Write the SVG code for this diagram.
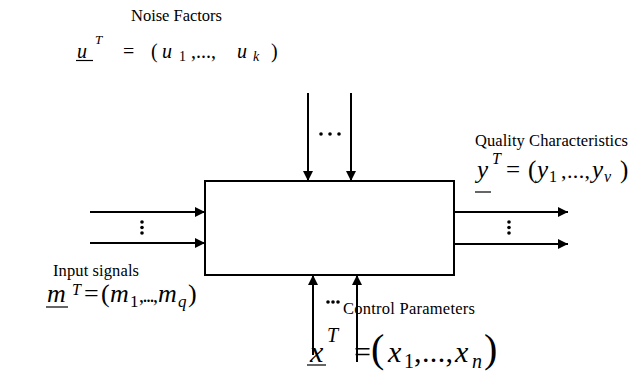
<svg xmlns="http://www.w3.org/2000/svg" width="631" height="371" viewBox="0 0 631 371" font-family="Liberation Serif, Times New Roman, serif">
<defs>
<marker id="ah" viewBox="0 0 10 10" refX="10" refY="5" markerWidth="5" markerHeight="5" orient="auto" markerUnits="strokeWidth">
<path d="M0,0 L10,5 L0,10 z" fill="#000"/>
</marker>
<style>
text{font-family:"Liberation Serif","Times New Roman",serif;fill:#000}
.lbl{font-size:16.5px}
.mi{font-style:italic}
.ln{stroke:#000;stroke-width:2;fill:none}
.ar{stroke:#000;stroke-width:2;fill:none;marker-end:url(#ah)}
.ul{stroke:#000;stroke-width:1.2}
</style>
</defs>
<rect width="631" height="371" fill="#fff"/>
<g id="system">
<rect x="205" y="181" width="249" height="94" class="ln"/>
</g>
<g id="connectors">
<line x1="308" y1="93" x2="308" y2="181" class="ar"/>
<line x1="351" y1="93" x2="351" y2="181" class="ar"/>
<line x1="90" y1="212" x2="205" y2="212" class="ar"/>
<line x1="90" y1="243" x2="205" y2="243" class="ar"/>
<line x1="454" y1="212" x2="568" y2="212" class="ar"/>
<line x1="454" y1="244" x2="568" y2="244" class="ar"/>
<line x1="313" y1="355" x2="313" y2="275" class="ar"/>
<line x1="357" y1="362" x2="357" y2="275" class="ar"/>
<g fill="#000">
<circle cx="321" cy="134" r="1.8"/><circle cx="330" cy="134" r="1.8"/><circle cx="339" cy="134" r="1.8"/>
<circle cx="142" cy="222" r="1.8"/><circle cx="142" cy="227.5" r="1.8"/><circle cx="142" cy="233" r="1.8"/>
<circle cx="509" cy="222" r="1.8"/><circle cx="509" cy="227.5" r="1.8"/><circle cx="509" cy="233" r="1.8"/>
<circle cx="328" cy="302" r="1.8"/><circle cx="333" cy="302" r="1.8"/><circle cx="338" cy="302" r="1.8"/>
</g>
</g>
<g id="noise">
<text x="131" y="21" class="lbl" textLength="91">Noise Factors</text>
<text x="77" y="58" class="mi" font-size="20">u</text>
<line x1="76" y1="60.5" x2="93" y2="60.5" class="ul"/>
<text x="95" y="44" class="mi" font-size="13">T</text>
<text x="123" y="58" font-size="20">=</text>
<text x="151" y="58" font-size="20">(</text>
<text x="162" y="58" class="mi" font-size="20">u</text>
<text x="179" y="61" font-size="14">1</text>
<text x="191" y="58" font-size="20">,...,</text>
<text x="237" y="58" class="mi" font-size="20">u</text>
<text x="253" y="61" class="mi" font-size="14">k</text>
<text x="271" y="58" font-size="20">)</text>
</g>
<g id="quality">
<text x="475" y="146" class="lbl" textLength="153">Quality Characteristics</text>
<text x="477" y="178" class="mi" font-size="25">y</text>
<line x1="475" y1="192" x2="491" y2="192" class="ul"/>
<text x="492" y="164" class="mi" font-size="16">T</text>
<text x="506" y="178" font-size="25">=</text>
<text x="528" y="178" font-size="25">(</text>
<text x="537" y="178" class="mi" font-size="25">y</text>
<text x="549" y="182" font-size="16">1</text>
<text x="561" y="178" font-size="22" textLength="29">,...,</text>
<text x="592" y="178" class="mi" font-size="25">y</text>
<text x="604" y="182" class="mi" font-size="16">v</text>
<text x="620" y="178" font-size="25">)</text>
</g>
<g id="input">
<text x="53" y="276" class="lbl" textLength="86">Input signals</text>
<text x="47" y="302" class="mi" font-size="26">m</text>
<line x1="46" y1="307" x2="68" y2="307" class="ul"/>
<text x="72" y="295" class="mi" font-size="16">T</text>
<text x="84" y="302" font-size="26">=</text>
<text x="101" y="302" font-size="26">(</text>
<text x="110" y="302" class="mi" font-size="26">m</text>
<text x="130" y="307" font-size="17">1</text>
<text x="139" y="302" font-size="20" textLength="19">,...,</text>
<text x="158" y="302" class="mi" font-size="26">m</text>
<text x="178" y="307" class="mi" font-size="17">q</text>
<text x="188" y="302" font-size="26">)</text>
</g>
<g id="control">
<text x="343" y="314" class="lbl" textLength="132">Control Parameters</text>
<text x="310" y="362" class="mi" font-size="30">x</text>
<line x1="307" y1="365" x2="326" y2="365" class="ul"/>
<text x="327" y="342" class="mi" font-size="20">T</text>
<text x="354" y="362" font-size="30">=</text>
<text x="371" y="362" font-size="40">(</text>
<text x="388" y="362" class="mi" font-size="30">x</text>
<text x="404" y="368" font-size="20">1</text>
<text x="414" y="362" font-size="30" textLength="39">,...,</text>
<text x="455" y="362" class="mi" font-size="30">x</text>
<text x="472" y="368" class="mi" font-size="20">n</text>
<text x="484" y="362" font-size="40">)</text>
</g>
</svg>
